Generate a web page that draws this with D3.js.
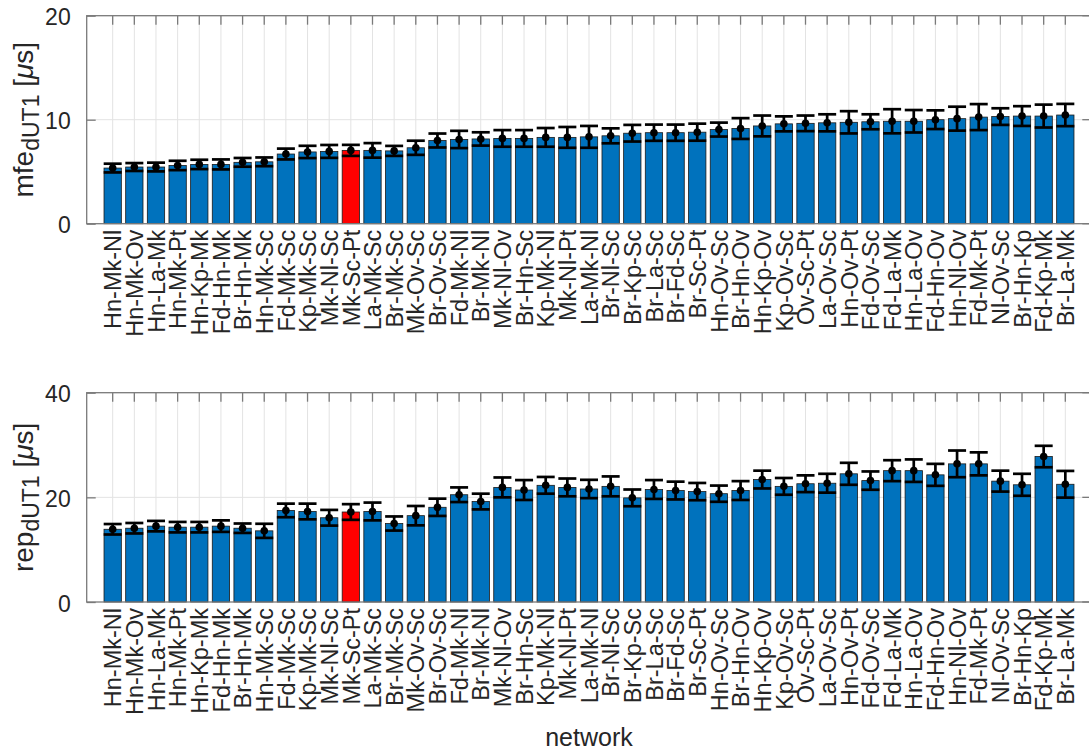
<!DOCTYPE html>
<html>
<head>
<meta charset="utf-8">
<script src="https://cdn.jsdelivr.net/npm/d3@7"></script>
<style>
  html, body { margin: 0; padding: 0; background: #fff; }
  svg { display: block; font-family: "Liberation Sans", Arial, Helvetica, sans-serif; }
</style>
</head>
<body>
<svg id="chart" width="1089" height="751"></svg>
<script>
// Networks, sorted by mean formal error
const networks = [
  "Hn-Mk-Nl","Hn-Mk-Ov","Hn-La-Mk","Hn-Mk-Pt","Hn-Kp-Mk","Fd-Hn-Mk","Br-Hn-Mk","Hn-Mk-Sc",
  "Fd-Mk-Sc","Kp-Mk-Sc","Mk-Nl-Sc","Mk-Sc-Pt","La-Mk-Sc","Br-Mk-Sc","Mk-Ov-Sc","Br-Ov-Sc",
  "Fd-Mk-Nl","Br-Mk-Nl","Mk-Nl-Ov","Br-Hn-Sc","Kp-Mk-Nl","Mk-Nl-Pt","La-Mk-Nl","Br-Nl-Sc",
  "Br-Kp-Sc","Br-La-Sc","Br-Fd-Sc","Br-Sc-Pt","Hn-Ov-Sc","Br-Hn-Ov","Hn-Kp-Ov","Kp-Ov-Sc",
  "Ov-Sc-Pt","La-Ov-Sc","Hn-Ov-Pt","Fd-Ov-Sc","Fd-La-Mk","Hn-La-Ov","Fd-Hn-Ov","Hn-Nl-Ov",
  "Fd-Mk-Pt","Nl-Ov-Sc","Br-Hn-Kp","Fd-Kp-Mk","Br-La-Mk"
];
const highlightNetwork = "Mk-Sc-Pt";

// mean formal error of dUT1 [µs] and its spread
const mfeValues = [
  5.35,5.45,5.45,5.6,5.7,5.7,5.9,5.95,
  6.7,6.9,6.95,7.05,7.05,7.0,7.3,8.0,
  8.1,8.15,8.2,8.2,8.3,8.3,8.35,8.45,
  8.7,8.75,8.75,8.8,9.05,9.15,9.4,9.6,
  9.65,9.7,9.75,9.8,9.85,9.85,10.0,10.1,
  10.25,10.3,10.35,10.35,10.45
];
const mfeErrors = [
  0.42,0.38,0.42,0.45,0.45,0.48,0.42,0.42,
  0.52,0.59,0.62,0.53,0.7,0.48,0.68,0.67,
  0.83,0.64,0.8,0.8,0.9,1.0,1.05,0.72,
  0.8,0.78,0.78,0.82,0.67,1.0,1.0,0.72,
  0.75,0.82,1.07,0.72,1.16,1.08,0.9,1.15,
  1.25,0.8,0.95,1.1,1.07
];

// repeatability of dUT1 [µs] and its spread
const repValues = [
  13.9,14.1,14.5,14.3,14.3,14.5,14.1,13.6,
  17.5,17.3,16.1,17.2,17.3,15.0,16.5,18.1,
  20.5,19.2,21.9,21.4,22.3,21.9,21.6,22.1,
  19.9,21.5,21.3,21.1,20.7,21.3,23.4,22.1,
  22.6,22.7,24.5,23.2,25.1,25.1,24.3,26.4,
  26.4,23.1,22.4,27.8,22.5
];
const repErrors = [
  1.0,1.0,1.0,1.0,1.0,1.1,0.9,1.35,
  1.3,1.5,1.5,1.5,1.7,1.35,1.85,1.65,
  1.4,1.5,1.9,1.9,1.6,1.7,1.75,1.9,
  1.6,1.8,1.7,1.65,1.55,1.8,1.7,1.6,
  1.6,1.8,2.1,1.75,2.0,2.15,2.1,2.55,
  2.2,2.0,2.1,2.05,2.55
];

const mfeTicks = [0, 10, 20];
const repTicks = [0, 20, 40];

// ---- layout ----
const svg = d3.select("#chart");
const left = 86.7, right = 1091.3;
const barColor = "#0072BD", highlightColor = "#FF0000";
const frameColor = "#7a7a7a", gridColor = "#e3e3e3", textColor = "#262626";

const x = d3.scaleLinear().domain([-0.2, networks.length + 1.2]).range([left, right]);
const barW = x(0.8) - x(0);

function panel(opts) {
  const { values, errors, ticks, top, bottom, name } = opts;
  const y = d3.scaleLinear().domain([ticks[0], ticks[ticks.length - 1]]).range([bottom, top]);
  const g = svg.append("g");
  const xs = networks.map((d, i) => i + 1);

  // grid
  g.append("g").selectAll("line").data(xs).join("line")
    .attr("x1", d => x(d)).attr("x2", d => x(d))
    .attr("y1", top).attr("y2", bottom)
    .attr("stroke", gridColor).attr("stroke-width", 1);
  g.append("g").selectAll("line").data(ticks.slice(1, -1)).join("line")
    .attr("x1", left).attr("x2", right)
    .attr("y1", d => y(d)).attr("y2", d => y(d))
    .attr("stroke", gridColor).attr("stroke-width", 1);

  // bars
  g.append("g").selectAll("rect").data(values).join("rect")
    .attr("x", (d, i) => x(i + 1) - barW / 2)
    .attr("width", barW)
    .attr("y", d => y(d))
    .attr("height", d => y(0) - y(d))
    .attr("fill", (d, i) => networks[i] === highlightNetwork ? highlightColor : barColor)
    .attr("stroke", "#1a1a1a").attr("stroke-width", 0.8);

  // error bars
  const eb = g.append("g").attr("stroke", "#000").attr("stroke-width", 2.7);
  const capW = barW * 0.52;
  values.forEach((v, i) => {
    const cx = x(i + 1), e = errors[i];
    eb.append("line").attr("x1", cx).attr("x2", cx).attr("y1", y(v - e)).attr("y2", y(v + e));
    eb.append("line").attr("x1", cx - capW).attr("x2", cx + capW).attr("y1", y(v + e)).attr("y2", y(v + e));
    eb.append("line").attr("x1", cx - capW).attr("x2", cx + capW).attr("y1", y(v - e)).attr("y2", y(v - e));
  });
  g.append("g").selectAll("circle").data(values).join("circle")
    .attr("cx", (d, i) => x(i + 1)).attr("cy", d => y(d)).attr("r", 3.8).attr("fill", "#000");

  // frame
  g.append("rect").attr("x", left).attr("y", top).attr("width", right - left).attr("height", bottom - top)
    .attr("fill", "none").attr("stroke", frameColor).attr("stroke-width", 1.3);

  // x ticks (inward, top edge)
  g.append("g").selectAll("line").data(xs).join("line")
    .attr("x1", d => x(d)).attr("x2", d => x(d))
    .attr("y1", top).attr("y2", top + 9)
    .attr("stroke", frameColor).attr("stroke-width", 1.3);

  // y axis via d3.axisLeft with inward ticks
  const yAxis = d3.axisLeft(y).tickValues(ticks).tickSize(-9).tickPadding(16).tickFormat(d3.format("d"));
  const ya = g.append("g").attr("transform", `translate(${left},0)`).call(yAxis);
  ya.select(".domain").remove();
  ya.selectAll(".tick line").attr("stroke", frameColor).attr("stroke-width", 1.3);
  ya.selectAll(".tick text").attr("fill", textColor).attr("font-size", 23)
    .attr("font-family", "Liberation Sans, Arial, sans-serif").attr("dy", "0.4em");
  // right-hand inward ticks
  g.append("g").selectAll("line").data(ticks).join("line")
    .attr("x1", right - 9).attr("x2", right)
    .attr("y1", d => y(d)).attr("y2", d => y(d))
    .attr("stroke", frameColor).attr("stroke-width", 1.3);

  // x tick labels, rotated
  g.append("g").selectAll("text").data(networks).join("text")
    .attr("transform", (d, i) => `translate(${x(i + 1)},${bottom + 6}) rotate(-90)`)
    .attr("text-anchor", "end").attr("dy", "0.37em")
    .attr("font-size", 23.5).attr("fill", textColor)
    .text(d => d);

  // y label with subscript
  const yl = g.append("text")
    .attr("transform", `translate(33,${(top + bottom) / 2}) rotate(-90)`)
    .attr("text-anchor", "middle").attr("font-size", 28).attr("fill", textColor);
  yl.append("tspan").text(name);
  yl.append("tspan").attr("font-size", 23).attr("dy", 6).text("dUT1");
  yl.append("tspan").attr("dy", -6).text(" [");
  yl.append("tspan").attr("font-style", "italic").text("μ");
  yl.append("tspan").text("s]");
}

panel({ values: mfeValues, errors: mfeErrors, ticks: mfeTicks, top: 15.7, bottom: 223.7, name: "mfe" });
panel({ values: repValues, errors: repErrors, ticks: repTicks, top: 392.7, bottom: 602, name: "rep" });

svg.append("text")
  .attr("x", (left + right) / 2).attr("y", 746)
  .attr("text-anchor", "middle").attr("font-size", 25).attr("fill", textColor)
  .text("network");
</script>
</body>
</html>
